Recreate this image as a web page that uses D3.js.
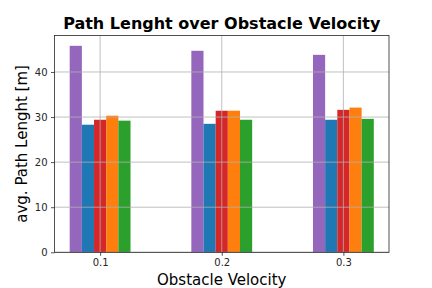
<!DOCTYPE html>
<html>
<head>
<meta charset="utf-8">
<script src="https://cdn.jsdelivr.net/npm/d3@7"></script>
<style>
  body { margin: 0; background: #fff; }
  svg { display: block; font-family: "DejaVu Sans", sans-serif; }
</style>
</head>
<body>
<div class="chart"></div>
<script>
const velocities = [0.1, 0.2, 0.3];
const tickLabels = ["0.1", "0.2", "0.3"];
const seriesColors = ["#9467bd", "#1f77b4", "#d62728", "#ff7f0e", "#2ca02c"];
const purple = [45.8, 44.7, 43.8];
const blue = [28.3, 28.5, 29.4];
const red = [29.4, 31.4, 31.6];
const orange = [30.3, 31.4, 32.1];
const green = [29.2, 29.4, 29.6];
const yTicks = [0, 10, 20, 30, 40];

const series = [purple, blue, red, orange, green];
const barWidth = 0.01;

const w = 432, h = 288;
const margin = {left: 54.5, right: 43, top: 35.5, bottom: 35.7};

const svg = d3.select(".chart").append("svg")
  .attr("width", w).attr("height", h);

const allVals = series.flat();
const ymax = d3.max(allVals) * 1.05;

const xMin = velocities[0] - 2.5 * barWidth, xMax = velocities[2] + 2.5 * barWidth;
const pad = (xMax - xMin) * 0.05;

const xScale = d3.scaleLinear()
  .domain([xMin - pad, xMax + pad])
  .range([margin.left, w - margin.right]);
const yScale = d3.scaleLinear()
  .domain([0, ymax])
  .range([h - margin.bottom, margin.top]);

// bars
series.forEach((vals, s) => {
  svg.append("g").selectAll("rect")
    .data(vals)
    .enter()
    .append("rect")
    .attr("x", (d, i) => xScale(velocities[i] + (s - 2) * barWidth - barWidth / 2))
    .attr("width", xScale(barWidth) - xScale(0))
    .attr("y", d => yScale(d))
    .attr("height", d => yScale(0) - yScale(d))
    .attr("fill", seriesColors[s]);
});

// grid
const grid = svg.append("g").attr("stroke", "#b0b0b0").attr("stroke-width", 0.8);
grid.selectAll(".gy").data(yTicks).enter().append("line")
  .attr("x1", margin.left).attr("x2", w - margin.right)
  .attr("y1", d => yScale(d)).attr("y2", d => yScale(d));
grid.selectAll(".gx").data(velocities).enter().append("line")
  .attr("y1", margin.top).attr("y2", h - margin.bottom)
  .attr("x1", d => xScale(d)).attr("x2", d => xScale(d));

// axes
const xAxis = d3.axisBottom(xScale).tickValues(velocities)
  .tickFormat((d, i) => tickLabels[i]).tickSize(3.5).tickPadding(3.5);
const yAxis = d3.axisLeft(yScale).tickValues(yTicks).tickSize(3.5).tickPadding(3.5);

const gx = svg.append("g").attr("transform", `translate(0,${h - margin.bottom})`).call(xAxis);
const gy = svg.append("g").attr("transform", `translate(${margin.left},0)`).call(yAxis);
[gx, gy].forEach(g => {
  g.select(".domain").remove();
  g.selectAll("text").attr("font-size", 10).attr("font-family", "DejaVu Sans").attr("fill", "#262626");
  g.selectAll("line").attr("stroke", "#262626").attr("stroke-width", 0.8);
});

// frame
svg.append("rect")
  .attr("x", margin.left).attr("y", margin.top)
  .attr("width", w - margin.left - margin.right)
  .attr("height", h - margin.top - margin.bottom)
  .attr("fill", "none").attr("stroke", "#262626").attr("stroke-width", 0.8);

// labels
svg.append("text")
  .attr("x", (margin.left + w - margin.right) / 2).attr("y", 29)
  .attr("text-anchor", "middle").attr("font-size", 16).attr("font-weight", "bold")
  .text("Path Lenght over Obstacle Velocity");

svg.append("text")
  .attr("x", (margin.left + w - margin.right) / 2).attr("y", 285)
  .attr("text-anchor", "middle").attr("font-size", 15)
  .text("Obstacle Velocity");

svg.append("text")
  .attr("transform", `translate(27,${(margin.top + h - margin.bottom) / 2}) rotate(-90)`)
  .attr("text-anchor", "middle").attr("font-size", 15)
  .text("avg. Path Lenght [m]");
</script>
</body>
</html>
